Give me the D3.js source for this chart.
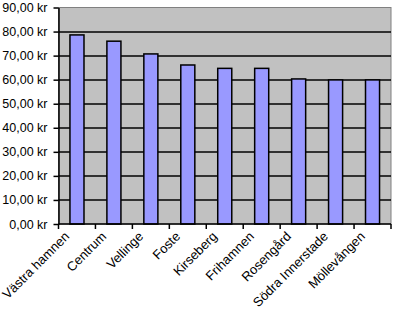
<!DOCTYPE html>
<html>
<head>
<meta charset="utf-8">
<script src="https://cdn.jsdelivr.net/npm/d3@7"></script>
<style>
  body { margin: 0; background: #fff; }
  text { font-family: "Liberation Sans", Arial, sans-serif; font-size: 12px; fill: #000; }
</style>
</head>
<body>
<script>
//Data
var areas = ["Västra hamnen", "Centrum", "Vellinge", "Foste", "Kirseberg",
             "Frihamnen", "Rosengård", "Södra Innerstade", "Möllevången"];
var prices = [78.6, 76.0, 70.7, 66.1, 64.7, 64.7, 60.3, 59.9, 59.9];
var yTicks = [0, 10, 20, 30, 40, 50, 60, 70, 80, 90];

//Margins (plot area box)
var margin = {left: 58.5, right: 2, top: 7.5, bottom: 87},
    width = 393 - margin.left - margin.right,
    height = 311 - margin.top - margin.bottom;

var svg = d3.select("body").append("svg")
    .attr("width", 393)
    .attr("height", 311);

//dithered grey background like the old excel plot area
var defs = svg.append("defs");
var pat = defs.append("pattern")
    .attr("id", "dots")
    .attr("width", 2).attr("height", 2)
    .attr("patternUnits", "userSpaceOnUse");
pat.append("rect").attr("width", 2).attr("height", 2).attr("fill", "#cbcbcb");
pat.append("rect").attr("width", 1).attr("height", 1).attr("fill", "#a4a4a4");

var g = svg.append("g")
    .attr("transform", "translate(" + margin.left + "," + margin.top + ")");

var x = d3.scaleBand()
    .domain(areas)
    .range([0, width])
    .paddingInner(0.62)
    .paddingOuter(0.31);

//unpadded band for the tick marks / labels
var xCat = d3.scaleBand().domain(areas).range([0, width]);

var y = d3.scaleLinear()
    .domain([0, 90])
    .range([height, 0]);

g.append("rect")
    .attr("width", width)
    .attr("height", height)
    .attr("fill", "url(#dots)")
    .attr("stroke", "#808080")
    .attr("stroke-width", 1);

//gridlines
g.selectAll(".grid")
    .data(yTicks.filter(function(d){ return d > 0 && d < 90; }))
    .enter().append("line")
    .attr("x1", 0).attr("x2", width)
    .attr("y1", function(d){ return Math.round(y(d)) + 0.5; })
    .attr("y2", function(d){ return Math.round(y(d)) + 0.5; })
    .attr("stroke", "#000")
    .attr("stroke-width", 1.5);

//bars
g.selectAll(".bar")
    .data(prices)
    .enter().append("rect")
    .attr("class", "bar")
    .attr("x", function(d, i){ return x(areas[i]); })
    .attr("y", function(d){ return y(d); })
    .attr("width", x.bandwidth())
    .attr("height", function(d){ return height - y(d); })
    .attr("fill", "#9999ff")
    .attr("stroke", "#000")
    .attr("stroke-width", 1.5);

//y axis
var yAxis = d3.axisLeft(y)
    .tickValues(yTicks)
    .tickSize(5)
    .tickSizeOuter(0)
    .tickPadding(6)
    .tickFormat(function(d){ return d3.format(".2f")(d).replace(".", ",") + " kr"; });

var gy = g.append("g").call(yAxis);
gy.select(".domain").attr("stroke", "#000").attr("stroke-width", 1.5);
gy.selectAll(".tick line").attr("stroke", "#000").attr("stroke-width", 1.5);
gy.selectAll("text").style("font-size", "12.5px").attr("fill", "#000");

//x axis with ticks at category boundaries
var gx = g.append("g").attr("transform", "translate(0," + height + ")");
gx.append("line")
    .attr("x1", 0).attr("x2", width)
    .attr("stroke", "#000").attr("stroke-width", 1.5);
gx.selectAll(".xt")
    .data(d3.range(areas.length + 1))
    .enter().append("line")
    .attr("x1", function(i){ return i * xCat.step(); })
    .attr("x2", function(i){ return i * xCat.step(); })
    .attr("y1", 0).attr("y2", 5)
    .attr("stroke", "#000").attr("stroke-width", 1.5);

//rotated category names, ending just left of the category centre
gx.selectAll(".xl")
    .data(areas)
    .enter().append("text")
    .attr("text-anchor", "end")
    .style("font-size", "13px")
    .attr("transform", function(d){
        var cx = xCat(d) + xCat.bandwidth() / 2 - 10;
        return "translate(" + cx + ",10) rotate(-45)";
    })
    .attr("dy", "0.35em")
    .text(function(d){ return d; });
</script>
</body>
</html>
